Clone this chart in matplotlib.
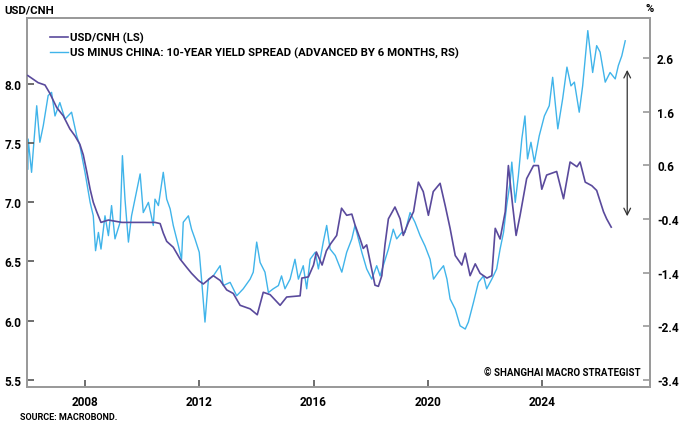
import matplotlib
matplotlib.use("Agg")
import matplotlib.pyplot as plt

# USD/CNH, left scale
cnh_year = [2006.00, 2006.36, 2006.60, 2006.77, 2007.01, 2007.24, 2007.47, 2007.65, 2007.82, 2007.94,
            2008.06, 2008.18, 2008.29, 2008.41, 2008.56, 2008.82, 2009.29, 2010.45, 2010.63, 2010.74,
            2010.86, 2011.09, 2011.33, 2011.56, 2011.73, 2011.97, 2012.14, 2012.49, 2012.73, 2012.96,
            2013.19, 2013.43, 2013.78, 2014.03, 2014.24, 2014.48, 2014.83, 2015.06, 2015.53, 2015.59,
            2015.82, 2016.00, 2016.10, 2016.30, 2016.45, 2016.60, 2016.81, 2016.98, 2017.16, 2017.34,
            2017.45, 2017.63, 2017.74, 2017.86, 2017.98, 2018.15, 2018.27, 2018.39, 2018.50, 2018.62,
            2018.85, 2019.03, 2019.14, 2019.32, 2019.50, 2019.67, 2019.84, 2020.02, 2020.19, 2020.43,
            2020.61, 2020.78, 2020.96, 2021.19, 2021.31, 2021.48, 2021.66, 2021.83, 2022.07, 2022.24,
            2022.36, 2022.53, 2022.71, 2022.82, 2022.97, 2023.09, 2023.23, 2023.46, 2023.70, 2023.87,
            2023.99, 2024.16, 2024.51, 2024.75, 2024.98, 2025.22, 2025.33, 2025.51, 2025.74, 2025.91,
            2026.15, 2026.26, 2026.42]
cnh = [8.07, 8.01, 7.99, 7.92, 7.80, 7.73, 7.62, 7.56, 7.49, 7.40,
       7.26, 7.11, 7.00, 6.92, 6.83, 6.85, 6.83, 6.83, 6.82, 6.74,
       6.67, 6.62, 6.52, 6.45, 6.40, 6.34, 6.31, 6.38, 6.34, 6.26,
       6.23, 6.13, 6.10, 6.05, 6.24, 6.22, 6.13, 6.20, 6.21, 6.36,
       6.37, 6.47, 6.58, 6.47, 6.59, 6.65, 6.72, 6.95, 6.89, 6.90,
       6.81, 6.69, 6.61, 6.64, 6.50, 6.30, 6.29, 6.38, 6.64, 6.86,
       6.96, 6.86, 6.72, 6.83, 6.92, 7.17, 7.09, 6.89, 7.09, 7.16,
       6.97, 6.78, 6.55, 6.47, 6.57, 6.38, 6.48, 6.40, 6.36, 6.38,
       6.78, 6.69, 6.92, 7.31, 6.97, 6.72, 6.89, 7.20, 7.31, 7.31,
       7.11, 7.23, 7.26, 7.03, 7.34, 7.30, 7.34, 7.17, 7.14, 7.10,
       6.92, 6.86, 6.79]

# US minus China 10y yield spread, advanced 6 months, right scale
spr_year = [2006.00, 2006.01, 2006.13, 2006.31, 2006.42, 2006.54, 2006.71, 2006.83, 2006.95, 2007.12,
            2007.30, 2007.53, 2007.71, 2007.82, 2008.00, 2008.18, 2008.29, 2008.37, 2008.47, 2008.56,
            2008.70, 2008.82, 2008.93, 2009.05, 2009.23, 2009.31, 2009.40, 2009.52, 2009.63, 2009.93,
            2010.04, 2010.22, 2010.39, 2010.45, 2010.57, 2010.74, 2010.86, 2010.98, 2011.09, 2011.27,
            2011.38, 2011.44, 2011.62, 2011.73, 2011.85, 2012.00, 2012.08, 2012.20, 2012.32, 2012.49,
            2012.73, 2012.84, 2013.08, 2013.31, 2013.54, 2013.78, 2013.89, 2014.01, 2014.13, 2014.30,
            2014.42, 2014.59, 2014.77, 2014.88, 2015.00, 2015.18, 2015.35, 2015.47, 2015.64, 2015.76,
            2015.88, 2016.06, 2016.17, 2016.34, 2016.46, 2016.58, 2016.76, 2016.99, 2017.16, 2017.34,
            2017.45, 2017.69, 2017.86, 2018.04, 2018.21, 2018.33, 2018.62, 2018.79, 2018.91, 2019.09,
            2019.20, 2019.38, 2019.55, 2019.73, 2019.90, 2020.08, 2020.20, 2020.37, 2020.55, 2020.67,
            2020.78, 2020.96, 2021.13, 2021.31, 2021.42, 2021.60, 2021.77, 2021.95, 2022.06, 2022.24,
            2022.41, 2022.53, 2022.65, 2022.76, 2022.88, 2022.94, 2023.06, 2023.17, 2023.29, 2023.40,
            2023.49, 2023.61, 2023.73, 2023.90, 2024.08, 2024.25, 2024.37, 2024.55, 2024.72, 2024.87,
            2025.01, 2025.13, 2025.30, 2025.42, 2025.60, 2025.77, 2025.91, 2026.03, 2026.21, 2026.38,
            2026.56, 2026.67, 2026.79, 2026.91]
spread = [0.53, 1.09, 0.47, 1.71, 1.03, 1.34, 1.90, 1.96, 1.52, 1.77,
          1.46, 1.59, 1.15, 0.97, 0.47, -0.09, -0.34, -0.99, -0.65, -0.96,
          -0.34, -0.71, -0.15, -0.77, -0.46, 0.78, -0.03, -0.83, -0.34, 0.44,
          -0.28, -0.09, -0.52, -0.03, -0.15, 0.47, -0.03, -0.21, -0.52, -0.90,
          -1.15, -0.46, -0.34, -0.59, -0.77, -1.02, -1.52, -2.32, -1.52, -1.46,
          -1.27, -1.64, -1.58, -1.83, -1.70, -1.52, -1.39, -0.83, -1.21, -1.39,
          -1.77, -1.70, -1.64, -1.46, -1.70, -1.52, -1.15, -1.52, -1.27, -1.70,
          -1.15, -1.02, -1.33, -0.83, -0.52, -0.96, -1.08, -1.39, -1.02, -0.77,
          -0.52, -1.02, -1.33, -1.52, -1.27, -1.46, -0.96, -0.59, -0.77, -0.65,
          -0.65, -0.28, -0.46, -0.71, -0.90, -1.15, -1.52, -1.39, -1.27, -1.52,
          -1.89, -2.08, -2.39, -2.45, -2.32, -1.95, -1.58, -1.46, -1.70, -1.52,
          -1.33, -0.96, -0.65, -0.15, 0.28, 0.66, -0.09, 0.41, 1.09, 1.52,
          0.72, 1.03, 0.66, 1.15, 1.52, 1.71, 2.24, 1.28, 1.84, 2.43,
          2.08, 2.15, 1.59, 2.08, 3.11, 2.33, 2.83, 2.71, 2.15, 2.33,
          2.21, 2.46, 2.64, 2.92]

left_ticks = [5.5, 6.0, 6.5, 7.0, 7.5, 8.0]
right_ticks = [-3.4, -2.4, -1.4, -0.4, 0.6, 1.6, 2.6]
year_ticks = [2008, 2012, 2016, 2020, 2024]
arrow_span = [2.43, -0.40]  # right-scale ends of the gap arrow

plt.rcParams['font.family'] = ['Roboto', 'DejaVu Sans']
plt.rcParams['font.weight'] = 'bold'

purple = '#5a4a9c'
blue = '#40b4ea'
grey = '#9a9a9a'

fig = plt.figure(figsize=(6.8, 4.27), dpi=100)
ax1 = fig.add_axes([0.0397, 0.0913, 0.9163, 0.8642])
ax2 = ax1.twinx()

l1, = ax1.plot(cnh_year, cnh, color=purple, lw=1.2, zorder=3)
l2, = ax2.plot(spr_year, spread, color=blue, lw=1.0, zorder=2)
ax1.set_zorder(ax2.get_zorder() + 1)
ax1.patch.set_visible(False)

ax1.set_xlim(2005.97, 2027.78)
ax1.set_ylim(5.44, 8.556)
ax2.set_ylim(-3.53, 3.345)
ax1.set_xticks(year_ticks)
ax1.set_yticks(left_ticks)
ax1.set_yticklabels(['%.1f' % t for t in left_ticks])
ax2.set_yticks(right_ticks)
ax2.set_yticklabels(['%.1f' % t for t in right_ticks])

for ax in (ax1, ax2):
    for s in ax.spines.values():
        s.set_color(grey)
        s.set_linewidth(1.4)
ax1.tick_params(axis='both', direction='in', length=5, width=1.2, color='#555555',
                labelsize=8.5, pad=4)
ax1.tick_params(axis='x', pad=6)
ax2.tick_params(axis='y', direction='in', length=5, width=1.2, color=grey,
                labelsize=8.5, pad=5)

ax2.annotate('', xy=(2026.98, arrow_span[0]), xytext=(2026.98, arrow_span[1]),
             arrowprops=dict(arrowstyle='<->', color='#333333', lw=0.9,
                             mutation_scale=12))

leg = ax1.legend([l1, l2], ['USD/CNH (LS)',
                            'US MINUS CHINA: 10-YEAR YIELD SPREAD (ADVANCED BY 6 MONTHS, RS)'],
                 loc='upper left', bbox_to_anchor=(0.02, 0.99), frameon=False,
                 fontsize=8.2, handlelength=1.6, handletextpad=0.2, labelspacing=0.35)

fig.text(0.007, 0.975, 'USD/CNH', fontsize=8.2, ha='left', va='center')
fig.text(0.955, 0.978, '%', fontsize=8, ha='center', va='center')
fig.text(0.03, 0.023, 'SOURCE: MACROBOND.', fontsize=6.5, ha='left', va='center')
ax1.text(0.985, 0.04, '\u00a9 SHANGHAI MACRO STRATEGIST', transform=ax1.transAxes,
         fontsize=7, ha='right', va='center')

plt.savefig('out.png', dpi=100)
